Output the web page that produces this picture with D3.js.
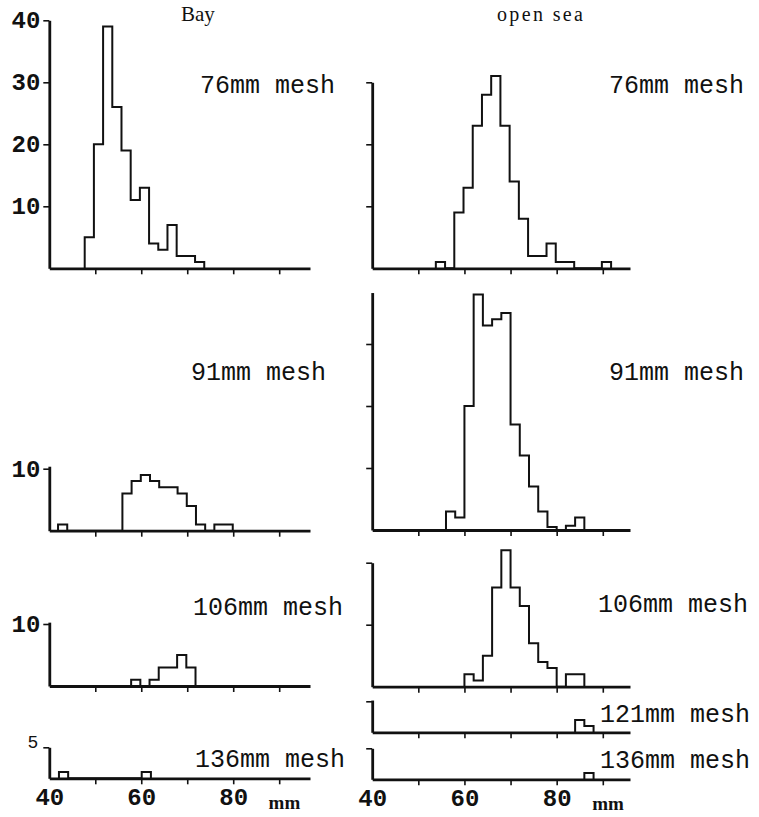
<!DOCTYPE html>
<html>
<head>
<meta charset="utf-8">
<script src="https://cdn.jsdelivr.net/npm/d3@7/dist/d3.min.js"></script>
<style>
  html, body { margin: 0; padding: 0; background: #fff; }
  svg { display: block; }
</style>
</head>
<body>
<svg id="chart" width="759" height="817"></svg>
<script>
// ---------------- DATA ----------------
const binWidthMm = 2;              // class width, mm
const columnTitles = ["Bay", "open sea"];
const meshLabels = ["76mm mesh", "91mm mesh", "106mm mesh", "121mm mesh", "136mm mesh"];
const xTickValues = [50, 60, 70, 80, 90];
const xTickLabels = [40, 60, 80];
const xUnitLabel = "mm";

// Bay (left column): counts per 2-mm class, with lower edge of first class (mm)
const bay76Start = 47.7;
const bay76 = [5, 20, 39, 26, 19, 11, 13, 4, 3, 7, 2, 2, 1];
const bay91Start = 41.9;
const bay91 = [1, 0, 0, 0, 0, 0, 0, 6, 8, 9, 8, 7, 7, 6, 4, 1, 0, 1, 1];
const bay106Start = 57.8;
const bay106 = [1, 0, 1, 3, 3, 5, 3];
const bay136Start = 42.1;
const bay136 = [1, 0, 0, 0, 0, 0, 0, 0, 0, 1];

// Open sea (right column)
const open76Start = 53.8;
const open76 = [1, 0, 9, 13, 23, 28, 31, 23, 14, 8, 2, 2, 4, 1, 1, 0, 0, 0, 1];
const open91Start = 56.0;
const open91 = [3, 2, 20, 38, 33, 34, 35, 17, 12, 7, 3, 0.5, 0, 0.7, 2];
const open106Start = 60.0;
const open106 = [2, 1, 5, 16, 22, 16, 13, 7, 4, 3, 0, 2, 2];
const open121Start = 84.0;
const open121 = [2, 1];
const open136Start = 86.0;
const open136 = [1];

// y-axis ticks (counts)
const bay76Ticks = [10, 20, 30, 40];
const open76Ticks = [10, 20, 30];
const bay91Ticks = [10];
const open91Ticks = [10, 20, 30];
const bay106Ticks = [10];
const open106Ticks = [10, 20];
const open121Ticks = [5];
const bay136Ticks = [5];
const open136Ticks = [5];

// ---------------- LAYOUT ----------------
const svg = d3.select("#chart");
const UNIT = 6.2; // px per count

const xScales = [
  d3.scaleLinear().domain([40, 96.7]).range([49.3, 310]),
  d3.scaleLinear().domain([40, 95.9]).range([372.2, 630])
];

const panels = [
  { col: 0, base: 268.3, top: 40,   ticks: bay76Ticks,  showLabels: true,  data: bay76,  start: bay76Start,  label: meshLabels[0], lx: 200, ly: 93,  bottom: false },
  { col: 1, base: 268.3, top: 30,   ticks: open76Ticks, showLabels: false, data: open76, start: open76Start, label: meshLabels[0], lx: 609, ly: 93,  bottom: false },
  { col: 0, base: 530.7, top: 10.4, ticks: bay91Ticks,  showLabels: true,  data: bay91,  start: bay91Start,  label: meshLabels[1], lx: 191, ly: 380, bottom: false },
  { col: 1, base: 530.0, top: 38.3, ticks: open91Ticks, showLabels: false, data: open91, start: open91Start, label: meshLabels[1], lx: 609, ly: 380, bottom: false },
  { col: 0, base: 686.0, top: 10.3, ticks: bay106Ticks, showLabels: true,  data: bay106, start: bay106Start, label: meshLabels[2], lx: 193, ly: 615, bottom: false },
  { col: 1, base: 686.7, top: 20,   ticks: open106Ticks,showLabels: false, data: open106,start: open106Start,label: meshLabels[2], lx: 598, ly: 612, bottom: false },
  { col: 1, base: 732.3, top: 5.2,  ticks: open121Ticks,showLabels: false, data: open121,start: open121Start,label: meshLabels[3], lx: 600, ly: 722, bottom: false },
  { col: 0, base: 778.3, top: 5,    ticks: bay136Ticks, showLabels: true,  data: bay136, start: bay136Start, label: meshLabels[4], lx: 195, ly: 767, bottom: true, smallLabel: true },
  { col: 1, base: 779.3, top: 5,    ticks: open136Ticks,showLabels: false, data: open136,start: open136Start,label: meshLabels[4], lx: 600, ly: 768, bottom: true }
];

const MONO = "'Liberation Mono', 'DejaVu Sans Mono', monospace";
const SERIF = "'Liberation Serif', 'DejaVu Serif', serif";

// column titles
svg.append("text").attr("x", 181).attr("y", 21)
  .attr("font-family", SERIF).attr("font-size", 21).attr("fill", "#111")
  .text(columnTitles[0]);
svg.append("text").attr("x", 497).attr("y", 21)
  .attr("font-family", SERIF).attr("font-size", 20).attr("fill", "#111")
  .attr("textLength", 86).attr("lengthAdjust", "spacing")
  .text(columnTitles[1]);

panels.forEach(p => {
  const x = xScales[p.col];
  const y = d3.scaleLinear().domain([0, p.top]).range([p.base, p.base - p.top * UNIT]);
  const g = svg.append("g");

  // histogram outline
  const pts = [[p.start, 0]];
  p.data.forEach((c, i) => {
    pts.push([p.start + i * binWidthMm, c]);
    pts.push([p.start + (i + 1) * binWidthMm, c]);
  });
  pts.push([p.start + p.data.length * binWidthMm, 0]);
  const line = d3.line().x(d => x(d[0])).y(d => y(d[1]));
  g.append("path").attr("d", line(pts))
    .attr("fill", "none").attr("stroke", "#111").attr("stroke-width", 2)
    .attr("stroke-linejoin", "miter");

  // y axis
  const yAxis = d3.axisLeft(y).tickValues(p.ticks).tickSize(6).tickSizeOuter(0)
    .tickPadding(3)
    .tickFormat(p.showLabels ? d3.format("d") : () => "");
  const ya = g.append("g").attr("transform", `translate(${x(40)},0)`).call(yAxis);
  ya.select(".domain").attr("stroke", "#111").attr("stroke-width", 2.8);
  ya.selectAll(".tick line").attr("stroke", "#111").attr("stroke-width", 1.6);
  ya.selectAll(".tick text").attr("font-family", MONO)
    .attr("font-size", p.smallLabel ? 18 : 24).attr("font-weight", "bold").attr("fill", "#111");
  if (p.smallLabel) ya.selectAll(".tick text").attr("dy", "0.0em").attr("x", -11).attr("font-weight", "normal");

  // x axis
  const xAxis = d3.axisBottom(x).tickValues(xTickValues).tickSize(6).tickSizeOuter(0)
    .tickFormat(() => "");
  const xa = g.append("g").attr("transform", `translate(0,${p.base})`).call(xAxis);
  xa.select(".domain").attr("stroke", "#111").attr("stroke-width", 2.8);
  xa.selectAll(".tick line").attr("stroke", "#111").attr("stroke-width", 1.6);

  if (p.bottom) {
    const lab = d3.axisBottom(x).tickValues(xTickLabels).tickSize(0).tickPadding(10)
      .tickFormat(d3.format("d"));
    const la = g.append("g").attr("transform", `translate(0,${p.base})`).call(lab);
    la.select(".domain").remove();
    la.selectAll(".tick text").attr("font-family", MONO).attr("font-size", 24)
      .attr("font-weight", "bold").attr("fill", "#111");
    g.append("text").attr("x", x(87.7)).attr("y", p.base + 31)
      .attr("font-family", SERIF).attr("font-size", 19).attr("font-weight", "bold")
      .attr("fill", "#111").text(xUnitLabel);
  }

  // mesh label
  g.append("text").attr("x", p.lx).attr("y", p.ly)
    .attr("font-family", MONO).attr("font-size", 25).attr("fill", "#111")
    .text(p.label);
});
</script>
</body>
</html>
